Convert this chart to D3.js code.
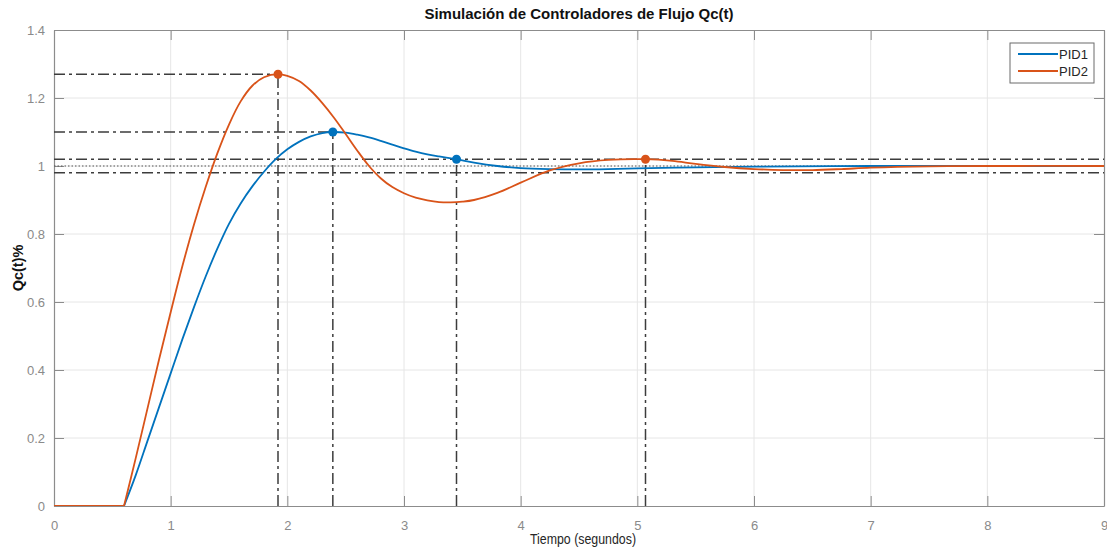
<!DOCTYPE html>
<html>
<head>
<meta charset="utf-8">
<script src="https://cdn.jsdelivr.net/npm/d3@7"></script>
<style>
  html, body { margin: 0; padding: 0; background: #fff; }
  svg { display: block; font-family: "Liberation Sans", Arial, sans-serif; }
</style>
</head>
<body>
<svg id="chart" width="1107" height="550"></svg>
<script>
// Step response of the flow loop Qc(t) under two PID tunings
const pid1Time   = [0, 0.6, 0.7, 0.8, 0.9, 1.0, 1.1, 1.2, 1.3, 1.4, 1.5, 1.6, 1.7, 1.8, 1.9, 2.0, 2.1, 2.2, 2.3, 2.39, 2.5, 2.6, 2.7, 2.8, 2.9, 3.0, 3.1, 3.2, 3.3, 3.45, 3.6, 3.8, 4.0, 4.25, 4.5, 4.75, 5.0, 5.5, 6.0, 7.0, 8.0, 9.0];
const pid1Values = [0, 0, 0.09, 0.19, 0.29, 0.39, 0.49, 0.585, 0.675, 0.757, 0.83, 0.89, 0.94, 0.983, 1.02, 1.049, 1.071, 1.087, 1.097, 1.10, 1.098, 1.092, 1.084, 1.074, 1.063, 1.052, 1.042, 1.034, 1.028, 1.02, 1.01, 1.0, 0.994, 0.991, 0.990, 0.991, 0.993, 0.996, 0.998, 1.0, 1.0, 1.0];

const pid2Time   = [0, 0.6, 0.7, 0.8, 0.9, 1.0, 1.1, 1.2, 1.3, 1.4, 1.5, 1.6, 1.7, 1.8, 1.92, 2.0, 2.1, 2.2, 2.3, 2.4, 2.5, 2.6, 2.7, 2.8, 2.9, 3.0, 3.1, 3.2, 3.3, 3.4, 3.5, 3.6, 3.8, 4.0, 4.25, 4.5, 4.75, 5.07, 5.3, 5.5, 5.75, 6.0, 6.25, 6.5, 6.75, 7.0, 7.5, 8.0, 9.0];
const pid2Values = [0, 0, 0.14, 0.285, 0.43, 0.57, 0.705, 0.828, 0.938, 1.037, 1.122, 1.19, 1.236, 1.261, 1.27, 1.265, 1.25, 1.222, 1.185, 1.142, 1.094, 1.045, 1.0, 0.964, 0.938, 0.92, 0.907, 0.899, 0.894, 0.893, 0.895, 0.9, 0.921, 0.951, 0.987, 1.008, 1.018, 1.02, 1.015, 1.006, 0.997, 0.991, 0.988, 0.988, 0.991, 0.995, 0.999, 1.0, 1.0];

// Highlighted response points: peaks and settling instants
const markerTimes  = [1.92, 2.39, 3.45, 5.07];
const markerValues = [1.27, 1.10, 1.02, 1.02];
const markerSeries = ["PID2", "PID1", "PID1", "PID2"];
const markerToAxis = [true, true, false, false];   // peaks get a horizontal guide to the y axis

// Settling band (±2 %) and set point
const bandLevels = [1.02, 0.98];
const setPoint = 1.0;

const xTicks = [0, 1, 2, 3, 4, 5, 6, 7, 8, 9];
const yTicks = [0, 0.2, 0.4, 0.6, 0.8, 1, 1.2, 1.4];
const seriesNames = ["PID1", "PID2"];
const seriesColors = { PID1: "#0072BD", PID2: "#D95319" };

const svg = d3.select("#chart");
const margin = { left: 54, right: 3, top: 30, bottom: 44 };
const W = 1107, H = 550;
const x = d3.scaleLinear().domain([0, 9]).range([margin.left, W - margin.right]);
const y = d3.scaleLinear().domain([0, 1.4]).range([H - margin.bottom, margin.top]);
const x0 = x.range()[0], x1 = x.range()[1], y0 = y.range()[0], y1 = y.range()[1];

svg.append("defs").append("clipPath").attr("id", "plot-clip")
  .append("rect").attr("x", x0).attr("y", y1 - 6).attr("width", x1 - x0).attr("height", y0 - y1 + 6);

// Grid
const grid = svg.append("g").attr("stroke", "#e6e6e6").attr("stroke-width", 1);
grid.selectAll(".gx").data(xTicks.slice(1, -1)).join("line")
  .attr("x1", d => x(d)).attr("x2", d => x(d)).attr("y1", y0).attr("y2", y1);
grid.selectAll(".gy").data(yTicks.slice(1, -1)).join("line")
  .attr("x1", x0).attr("x2", x1).attr("y1", d => y(d)).attr("y2", d => y(d));

// Axes (inward ticks, box on)
const axisColor = "#8c8c8c";
const tickLen = 10;
const gxAxis = svg.append("g").attr("transform", `translate(0,${y0})`)
  .call(d3.axisBottom(x).tickValues(xTicks).tickFormat(d3.format("d")).tickSizeInner(-tickLen).tickSizeOuter(0).tickPadding(15));
const gxTop = svg.append("g").attr("transform", `translate(0,${y1})`)
  .call(d3.axisTop(x).tickValues(xTicks).tickFormat("").tickSizeInner(-tickLen).tickSizeOuter(0));
const gyAxis = svg.append("g").attr("transform", `translate(${x0},0)`)
  .call(d3.axisLeft(y).tickValues(yTicks).tickFormat(d => d === 0 || d === 1 ? d3.format("d")(d) : d3.format(".1f")(d)).tickSizeInner(-tickLen).tickSizeOuter(0).tickPadding(9));
const gyRight = svg.append("g").attr("transform", `translate(${x1},0)`)
  .call(d3.axisRight(y).tickValues(yTicks).tickFormat("").tickSizeInner(-tickLen).tickSizeOuter(0));
[gxAxis, gxTop, gyAxis, gyRight].forEach(g => {
  g.select(".domain").attr("stroke", axisColor).attr("stroke-width", 1.2);
  g.selectAll(".tick line").attr("stroke", axisColor);
  g.selectAll(".tick text").attr("fill", "#8a8a8a").attr("font-size", 13)
    .attr("font-family", "'Liberation Sans', Arial, sans-serif");
});

// Guide lines
const plot = svg.append("g").attr("clip-path", "url(#plot-clip)");
const guideColor = "#3c3c3c";
const dashDot = "11,4,3,4";
plot.selectAll(".band").data(bandLevels).join("line")
  .attr("x1", x0).attr("x2", x1).attr("y1", d => y(d)).attr("y2", d => y(d))
  .attr("stroke", guideColor).attr("stroke-width", 1.6).attr("stroke-dasharray", dashDot);
plot.append("line")
  .attr("x1", x0).attr("x2", x1).attr("y1", y(setPoint)).attr("y2", y(setPoint))
  .attr("stroke", "#555").attr("stroke-width", 1).attr("stroke-dasharray", "1.5,2");

const markerIdx = d3.range(markerTimes.length);
plot.selectAll(".vguide").data(markerIdx).join("line")
  .attr("x1", i => x(markerTimes[i])).attr("x2", i => x(markerTimes[i]))
  .attr("y1", y(0)).attr("y2", i => y(markerValues[i]))
  .attr("stroke", guideColor).attr("stroke-width", 1.5).attr("stroke-dasharray", dashDot);
plot.selectAll(".hguide").data(markerIdx.filter(i => markerToAxis[i])).join("line")
  .attr("x1", x(0)).attr("x2", i => x(markerTimes[i]))
  .attr("y1", i => y(markerValues[i])).attr("y2", i => y(markerValues[i]))
  .attr("stroke", guideColor).attr("stroke-width", 1.5).attr("stroke-dasharray", dashDot);

// Response curves: dead time drawn as a straight segment, response as a smooth curve
const seriesData = {
  PID1: pid1Time.map((t, i) => [t, pid1Values[i]]),
  PID2: pid2Time.map((t, i) => [t, pid2Values[i]])
};
const deadLine = d3.line().x(d => x(d[0])).y(d => y(d[1]));
const respLine = d3.line().x(d => x(d[0])).y(d => y(d[1])).curve(d3.curveCatmullRom.alpha(0.5));
seriesNames.forEach(name => {
  const pts = seriesData[name];
  const deadEnd = pts.findIndex(p => p[0] >= 0.6);
  plot.append("path").attr("d", deadLine(pts.slice(0, deadEnd + 1)))
    .attr("fill", "none").attr("stroke", seriesColors[name]).attr("stroke-width", 1.8);
  plot.append("path").attr("d", respLine(pts.slice(deadEnd)))
    .attr("fill", "none").attr("stroke", seriesColors[name]).attr("stroke-width", 1.8)
    .attr("stroke-linejoin", "round");
});

// Markers
svg.selectAll(".marker").data(markerIdx).join("circle")
  .attr("cx", i => x(markerTimes[i])).attr("cy", i => y(markerValues[i])).attr("r", 4.5)
  .attr("fill", i => seriesColors[markerSeries[i]]);

// Title and labels
svg.append("text").attr("x", (x0 + x1) / 2).attr("y", 19).attr("text-anchor", "middle")
  .attr("font-size", 15).attr("font-weight", "bold").attr("fill", "#111")
  .text("Simulación de Controladores de Flujo Qc(t)");
svg.append("text").attr("x", 583).attr("y", 544).attr("text-anchor", "middle")
  .attr("font-size", 14).attr("fill", "#262626").attr("textLength", 106).attr("lengthAdjust", "spacingAndGlyphs")
  .text("Tiempo (segundos)");
svg.append("text").attr("transform", `translate(23,268) rotate(-90)`).attr("text-anchor", "middle")
  .attr("font-size", 14.5).attr("font-weight", "bold").attr("fill", "#111")
  .text("Qc(t)%");

// Legend
const legend = svg.append("g").attr("transform", "translate(1010,43)");
legend.append("rect").attr("width", 84).attr("height", 40)
  .attr("fill", "#fff").attr("stroke", "#6b6b6b").attr("stroke-width", 1);
seriesNames.forEach((name, i) => {
  const ly = 11 + i * 17;
  legend.append("line").attr("x1", 8).attr("x2", 48).attr("y1", ly).attr("y2", ly)
    .attr("stroke", seriesColors[name]).attr("stroke-width", 1.8);
  legend.append("text").attr("x", 49).attr("y", ly + 4.5).attr("font-size", 13).attr("fill", "#262626")
    .text(name);
});
</script>
</body>
</html>
